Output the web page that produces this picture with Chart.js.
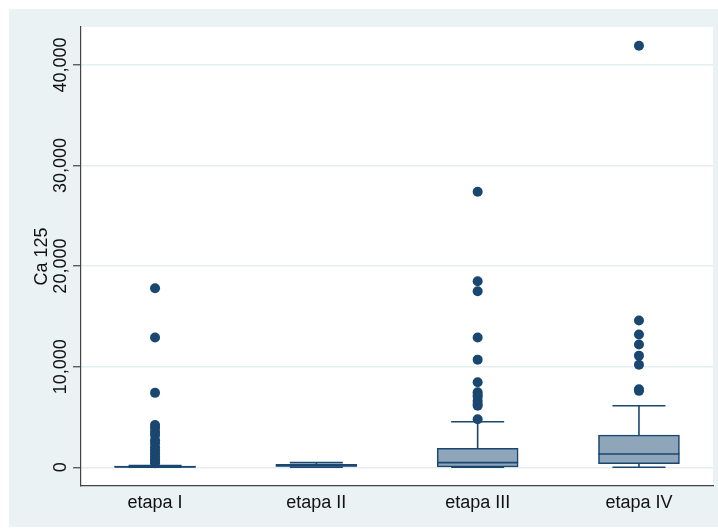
<!DOCTYPE html>
<html>
<head>
<meta charset="utf-8">
<script src="https://cdn.jsdelivr.net/npm/chart.js@4/dist/chart.umd.min.js"></script>
<style>
  html, body { margin: 0; padding: 0; background: #fff; }
  #wrap { width: 718px; height: 529px; }
</style>
</head>
<body>
<div id="wrap"><canvas id="boxChart" width="718" height="529"></canvas></div>
<script>
const categories = ['etapa I', 'etapa II', 'etapa III', 'etapa IV'];
const q1 = [10, 0, 30, 360];
const medians = [40, 150, 460, 1320];
const q3 = [130, 300, 1890, 3210];
const whiskerLow = [0, 0, 0, 0];
const whiskerHigh = [170, 460, 4530, 6120];
const outliersI = [17800, 12900, 7400, 4200, 3900, 3500, 3200, 2700, 2400, 2000, 1700, 1400, 1100, 800, 600, 400];
const outliersII = [];
const outliersIII = [27400, 18500, 17500, 12900, 10700, 8450, 7460, 7200, 7020, 6600, 6300, 6120, 4770];
const outliersIV = [41900, 14600, 13200, 12200, 11100, 10200, 7750, 7600];
const yTicks = [0, 10000, 20000, 30000, 40000];

const NAVY = '#1a476f';
const BOX_FILL = '#8ea5ba';
const OUTER_BG = '#eaf2f3';
const CAP_HALF = 26.5;
const BOX_HALF = 40.5;

const outlierPoints = [];
[outliersI, outliersII, outliersIII, outliersIV].forEach((list, i) => {
    list.forEach(v => outlierPoints.push({ x: i + 1, y: v }));
});

const boxData = categories.map((c, i) => ({ x: i + 1, y: [q1[i], q3[i]] }));

const backgroundPlugin = {
    id: 'stataBackground',
    beforeDraw(chart) {
        const { ctx, chartArea } = chart;
        ctx.save();
        ctx.fillStyle = '#ffffff';
        ctx.fillRect(0, 0, chart.width, chart.height);
        ctx.fillStyle = OUTER_BG;
        ctx.fillRect(9, 9, chart.width - 9, chart.height - 11);
        ctx.fillStyle = '#ffffff';
        ctx.fillRect(chartArea.left, chartArea.top, chartArea.right - chartArea.left, chartArea.bottom - chartArea.top);
        ctx.restore();
    }
};

const whiskerPlugin = {
    id: 'whiskers',
    beforeDatasetsDraw(chart) {
        const { ctx, scales: { x, y } } = chart;
        ctx.save();
        ctx.strokeStyle = NAVY;
        ctx.lineWidth = 1.6;
        categories.forEach((c, i) => {
            const px = x.getPixelForValue(i + 1);
            const hi = y.getPixelForValue(whiskerHigh[i]);
            const lo = y.getPixelForValue(whiskerLow[i]);
            ctx.beginPath();
            ctx.moveTo(px, y.getPixelForValue(q3[i]));
            ctx.lineTo(px, hi);
            ctx.moveTo(px, y.getPixelForValue(q1[i]));
            ctx.lineTo(px, lo);
            ctx.moveTo(px - CAP_HALF, hi);
            ctx.lineTo(px + CAP_HALF, hi);
            ctx.moveTo(px - CAP_HALF, lo);
            ctx.lineTo(px + CAP_HALF, lo);
            ctx.stroke();
        });
        ctx.restore();
    },
    afterDatasetDraw(chart, args) {
        if (args.meta.type !== 'bar') return;
        const { ctx, scales: { x, y } } = chart;
        ctx.save();
        ctx.strokeStyle = NAVY;
        ctx.lineWidth = 1.6;
        categories.forEach((c, i) => {
            const px = x.getPixelForValue(i + 1);
            const py = y.getPixelForValue(medians[i]);
            ctx.beginPath();
            ctx.moveTo(px - BOX_HALF, py);
            ctx.lineTo(px + BOX_HALF, py);
            ctx.stroke();
        });
        ctx.restore();
    }
};

const ctx = document.getElementById('boxChart').getContext('2d');
new Chart(ctx, {
    data: {
        datasets: [
            {
                type: 'scatter',
                data: outlierPoints,
                backgroundColor: NAVY,
                borderColor: NAVY,
                pointRadius: 5,
                pointBorderWidth: 0,
                order: 0
            },
            {
                type: 'bar',
                data: boxData,
                backgroundColor: BOX_FILL,
                borderColor: NAVY,
                borderWidth: 1.6,
                borderSkipped: false,
                barThickness: 81,
                order: 1
            }
        ]
    },
    options: {
        responsive: false,
        animation: false,
        devicePixelRatio: 1,
        layout: { padding: { left: 9, top: 27, right: 4, bottom: 2 } },
        plugins: {
            legend: { display: false },
            tooltip: { enabled: false }
        },
        scales: {
            x: {
                type: 'linear',
                offset: false,
                min: 0.541,
                max: 4.459,
                afterBuildTicks: (scale) => { scale.ticks = categories.map((c, i) => ({ value: i + 1 })); },
                afterFit: (scale) => { scale.height = 41; },
                grid: { display: false, drawTicks: false, offset: false },
                border: { display: true, color: '#444', width: 1.2 },
                ticks: {
                    padding: 6,
                    color: '#111',
                    font: { family: 'Liberation Sans', size: 18 },
                    callback: (v) => categories[v - 1] || ''
                }
            },
            y: {
                type: 'linear',
                min: -1860,
                max: 43770,
                afterBuildTicks: (scale) => { scale.ticks = yTicks.map(v => ({ value: v })); },
                afterFit: (scale) => { scale.width = 72; },
                grid: {
                    color: '#e4edef',
                    lineWidth: 1.5,
                    tickColor: '#444',
                    tickLength: 8,
                    tickWidth: 1.2
                },
                border: { display: true, color: '#444', width: 1.2 },
                title: {
                    display: true,
                    text: 'Ca 125',
                    color: '#111',
                    font: { family: 'Liberation Sans', size: 18 },
                    padding: { top: 22, bottom: 0 }
                },
                ticks: {
                    minRotation: 90,
                    maxRotation: 90,
                    crossAlign: 'center',
                    padding: -16,
                    color: '#111',
                    font: { family: 'Liberation Sans', size: 18 },
                    callback: (v) => v.toLocaleString('en-US')
                }
            }
        }
    },
    plugins: [backgroundPlugin, whiskerPlugin]
});
</script>
</body>
</html>
